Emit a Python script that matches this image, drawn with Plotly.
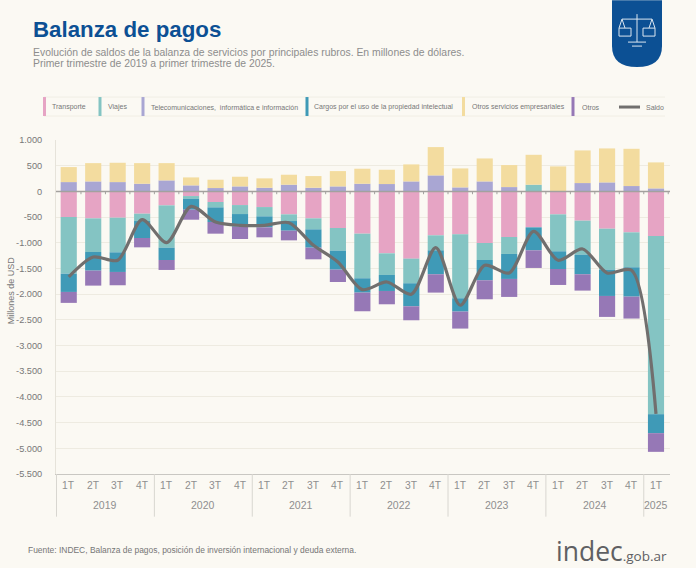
import plotly.graph_objects as go

WIDTH = 696
HEIGHT = 568
LEFT, RIGHT, TOP, BOTTOM = 56, 670, 140, 474.3

years = ['2019'] * 4 + ['2020'] * 4 + ['2021'] * 4 + ['2022'] * 4 + ['2023'] * 4 + ['2024'] * 4 + ['2025']
quarters = ['1T', '2T', '3T', '4T'] * 6 + ['1T']

# saldos por rubro, millones de USD
transporte = [-500, -525, -512, -434, -272, -91, -207, -266, -305, -447, -525, -713,
              -823, -1205, -1309, -855, -836, -1004, -888, -700, -447, -570, -726, -797, -868]
viajes = [-1100, -655, -674, -143, -823, -52, -104, -175, -181, -130, -214, -440,
          -868, -421, -479, -292, -1244, -331, -330, 130, -719, -661, -797, -680, -3468]
telecom = [181, 194, 181, 149, 214, 117, 65, 97, 71, 130, 71, 97,
           149, 143, 194, 311, 78, 194, 84, 0, 0, 162, 175, 104, 58]
cargos = [-357, -362, -382, -330, -240, -213, -285, -246, -214, -188, -356, -370,
          -279, -312, -448, -466, -259, -395, -486, -447, -344, -382, -512, -571, -369]
otros_serv = [292, 356, 376, 401, 336, 155, 162, 188, 182, 194, 227, 298,
              292, 278, 331, 551, 369, 447, 428, 582, 486, 635, 661, 725, 506]
otros = [-213, -292, -259, -182, -194, -195, -227, -240, -194, -188, -227, -240,
         -363, -259, -272, -357, -331, -370, -350, -343, -311, -318, -408, -427, -364]
saldo = [-1665, -1277, -1341, -551, -998, -292, -596, -661, -661, -609, -1050, -1374,
         -1912, -1763, -2002, -1095, -2216, -1439, -1588, -778, -1341, -1121, -1588, -1536, -4330]

y_ticks = [1000, 500, 0, -500, -1000, -1500, -2000, -2500, -3000, -3500, -4000, -4500, -5000, -5500]
y_labels = ['1.000', '500', '0', '-500', '-1.000', '-1.500', '-2.000', '-2.500', '-3.000',
            '-3.500', '-4.000', '-4.500', '-5.000', '-5.500']

PINK = '#e6a4c4'
TEAL = '#84c4c3'
LAVENDER = '#a9a6d3'
BLUE = '#3f9ab7'
YELLOW = '#f3dc9f'
PURPLE = '#9678b6'
GREY_LINE = '#716f6e'
BACKGROUND = '#fbf9f3'
TEXT = '#8f8f8f'
NAVY = '#0c5094'


def px(x):
    # pixel de la pagina a coordenada paper
    return (x - LEFT) / (RIGHT - LEFT)


def py(y):
    return (BOTTOM - y) / (BOTTOM - TOP)


def add_text(fig, text, x, y, size, color=TEXT, family='Liberation Sans', **kwargs):
    fig.add_annotation(text=text, x=px(x), y=py(y), xref='paper', yref='paper', showarrow=False,
                       xanchor=kwargs.pop('xanchor', 'left'), yanchor='middle',
                       font=dict(size=size, color=color, family=family), **kwargs)


def add_paper_shape(fig, x0, y0, x1, y1, **kwargs):
    fig.add_shape(xref='paper', yref='paper', x0=px(x0), y0=py(y0), x1=px(x1), y1=py(y1), **kwargs)


def draw_x_labels(fig):
    # trimestres y anios debajo del grafico, con divisores entre anios
    for i, q in enumerate(quarters):
        fig.add_annotation(text=q, x=i, xref='x', y=py(493), yref='paper', showarrow=False,
                           font=dict(size=10.3, color=TEXT))
    for year in sorted(set(years)):
        first = years.index(year)
        count = years.count(year)
        fig.add_annotation(text=year, x=first + (count - 1) / 2, xref='x', y=py(513.5), yref='paper',
                           showarrow=False, font=dict(size=10.5, color=TEXT))
        fig.add_shape(type='line', xref='x', yref='paper', x0=first - 0.5, x1=first - 0.5,
                      y0=py(474.3), y1=py(517), line=dict(color='#d8d6d0', width=1))


def draw_legend(fig):
    # leyenda propia: barrita vertical y texto chico
    items = [('Transporte', PINK, 44.5, 50), ('Viajes', TEAL, 100, 106),
             ('Telecomunicaciones,  informática e información', LAVENDER, 143, 149),
             ('Cargos por el uso de la propiedad intelectual', BLUE, 307, 312),
             ('Otros servicios empresariales', YELLOW, 463.5, 470), ('Otros', PURPLE, 573, 580)]
    for y in (97, 116):
        add_paper_shape(fig, 44, y, 665, y, type='line', line=dict(color='#f1eee5', width=1))
    for name, color, x_bar, x_text in items:
        add_paper_shape(fig, x_bar - 1.5, 97, x_bar + 1.5, 116, type='rect', fillcolor=color, line_width=0)
        add_text(fig, name, x_text, 107, 7, color='#777777')
    add_paper_shape(fig, 619, 107, 640, 107, type='line', line=dict(color=GREY_LINE, width=3))
    add_text(fig, 'Saldo', 644, 107, 7, color='#777777')


def draw_logo(fig):
    # escudo con la balanza
    x0, x1 = 612, 662
    shield = (f'M {px(x0)} {py(0)} L {px(x1)} {py(0)} L {px(x1)} {py(46)} '
              f'Q {px(x1)} {py(67)} {px(637)} {py(67)} Q {px(x0)} {py(67)} {px(x0)} {py(46)} Z')
    fig.add_shape(type='path', path=shield, xref='paper', yref='paper', fillcolor=NAVY, line_width=0)
    white = dict(color='#dbe6f0', width=1)
    for a, b, c, d in [(637, 14, 637, 42), (622, 19, 652, 19), (628, 42, 646, 42), (632, 46, 642, 46),
                       (622, 19, 619, 28), (622, 19, 625, 28), (652, 19, 649, 28), (652, 19, 655, 28)]:
        add_paper_shape(fig, a, b, c, d, type='line', line=white)
    for a, b in [(619, 631), (643, 655)]:
        add_paper_shape(fig, a, 28, b, 36, type='rect', line=white, fillcolor='rgba(0,0,0,0)')


fig = go.Figure()
x = [years, quarters]

series = [('Transporte', transporte, PINK), ('Viajes', viajes, TEAL),
          ('Telecomunicaciones, informática e información', telecom, LAVENDER),
          ('Cargos por el uso de la propiedad intelectual', cargos, BLUE),
          ('Otros servicios empresariales', otros_serv, YELLOW), ('Otros', otros, PURPLE)]
for name, values, color in series:
    fig.add_trace(go.Bar(x=x, y=values, name=name, marker=dict(color=color, line_width=0), width=0.66))

fig.add_trace(go.Scatter(x=x, y=saldo, name='Saldo', mode='lines',
                         line=dict(color=GREY_LINE, width=3.2, shape='spline', smoothing=0.8)))

# linea del cero con sus marcas
fig.add_shape(type='line', xref='paper', x0=0, x1=1, y0=0, y1=0, layer='above',
              line=dict(color='#a3a19e', width=1.5))
for i in range(len(years)):
    fig.add_shape(type='line', xref='x', x0=i + 0.5, x1=i + 0.5, y0=0, y1=-55, layer='below',
                  line=dict(color='#a3a19e', width=1))

draw_x_labels(fig)
draw_legend(fig)
draw_logo(fig)

add_text(fig, '<b>Balanza de pagos</b>', 31, 29, 22.3, color=NAVY)
add_text(fig, 'Evolución de saldos de la balanza de servicios por principales rubros. En millones de dólares.',
         31, 52, 10.4, color='#8d8d8d')
add_text(fig, 'Primer trimestre de 2019 a primer trimestre de 2025.', 31, 63.5, 10.4, color='#8d8d8d')
add_text(fig, 'Millones de USD', 10.5, 291, 9, color='#777777', textangle=-90, xanchor='center')
add_text(fig, 'Fuente: INDEC, Balanza de pagos, posición de inversión internacional y deuda externa.',
         26, 550, 8.45, color='#777777')
add_text(fig, 'indec<span style="font-size:13.5px">.gob.ar</span>', 554, 551, 26.5,
         color='#5f6062', family='Open Sans')

fig.update_layout(
    width=WIDTH, height=HEIGHT,
    margin=dict(l=LEFT, r=WIDTH - RIGHT, t=TOP, b=HEIGHT - BOTTOM, pad=0),
    barmode='relative', bargap=0.34,
    showlegend=False,
    paper_bgcolor=BACKGROUND, plot_bgcolor=BACKGROUND,
    font=dict(family='Liberation Sans', size=10.5, color=TEXT),
    xaxis=dict(type='multicategory', showgrid=False, zeroline=False, showline=True,
               linecolor='#c9c7c2', linewidth=1, ticks='', showdividers=False, showticklabels=False),
    yaxis=dict(range=[-5500, 1000], tickmode='array', tickvals=y_ticks, ticktext=y_labels,
               showgrid=True, gridcolor='#eeebe1', gridwidth=1, zeroline=False,
               showline=True, linecolor='#e6e3da', linewidth=1, ticks='outside', ticklen=11,
               tickcolor='rgba(0,0,0,0)', tickfont=dict(size=9.2, color='#777777')),
)

fig.write_html('out.html', config={'displayModeBar': False},
               post_script="document.body.style.margin='0';document.body.style.background='#fbf9f3';")
